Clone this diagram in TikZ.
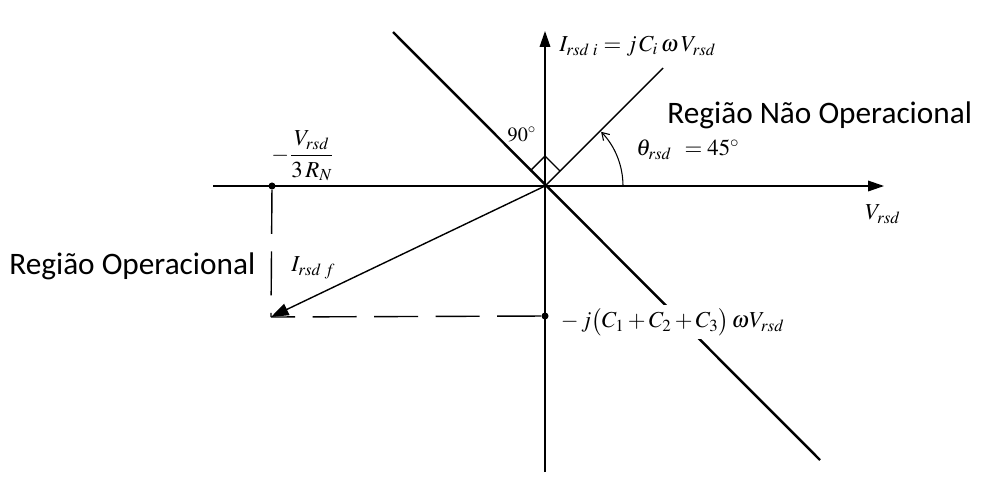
\documentclass[tikz,border=0pt]{standalone}
\usepackage{mathptmx}
\usepackage{fontspec}
\newfontfamily\calib{Carlito}
\usetikzlibrary{arrows.meta}
\begin{document}
\begin{tikzpicture}[x=0.02cm,y=-0.02cm,
  axis/.style={line width=0.8pt,-{Triangle[length=9pt,width=6pt]}},
  thinline/.style={line width=0.8pt},
  thick diag/.style={line width=1.4pt},
  dashln/.style={line width=0.8pt,dash pattern=on 25pt off 10pt},
  dotpt/.style={circle,fill,inner sep=0pt,minimum size=4pt},
  mlab/.style={inner sep=0pt,font=\fontsize{13}{15}\selectfont},
  slab/.style={inner sep=0pt,font=\calib\fontsize{17.8}{20}\selectfont}]
\useasboundingbox (0,0) rectangle (1000,491);
\coordinate (O) at (545,186);
\coordinate (xl) at (213,186);
\coordinate (xr) at (884,186);
\coordinate (yb) at (545,472);
\coordinate (yt) at (545,31);
\coordinate (d1) at (393,32);
\coordinate (d2) at (820,460);
\coordinate (p45) at (663,68);
\coordinate (F) at (271,317);
\node[dotpt] (Fx) at (272,186) {};
\node[dotpt] (Fy) at (545,316) {};
% axes
\draw[axis] (xl) -- (xr);
\draw[axis] (yb) -- (yt);
\draw[thick diag] (d1) -- (d2);
\draw[thinline] (O) -- (p45);
% vector
\draw[thinline,-{Triangle[length=10pt,width=7pt]}] (O) -- (F);
\draw[dashln] (Fy) -- (F);
\draw[dashln] (Fx) -- (F);
% right angle
\coordinate (r1) at (530,171);
\coordinate (r2) at (545,156);
\coordinate (r3) at (560,171);
\draw[thinline] (r1) -- (r2) -- (r3);
% angle arc
\draw[line width=0.6pt,-{Straight Barb[length=4pt,width=5pt]}] (623,186) arc[start angle=0,end angle=-44,radius=78];
% labels
\node[mlab,anchor=west] (Ii) at (559,46) {$I_{rsd\;i} = j\,C_i\,\omega\,V_{rsd}$};
\node[slab,anchor=west] (rno) at (667,115) {Região Não Operacional};
\node[slab,anchor=west] (ro) at (9,266) {Região Operacional};
\node[mlab,anchor=south,font=\fontsize{11.5}{13}\selectfont] (n90) at (522,142) {$90^{\circ}$};
\node[mlab,anchor=west] (th) at (636,150) {$\theta_{rsd}\;\,=45^{\circ}$};
\node[mlab] (frac) at (303,156) {$-\displaystyle\frac{V_{rsd}}{3\,R_N}$};
\node[mlab] (vr) at (883,214) {$V_{rsd}$};
\node[mlab,anchor=west] (If) at (291,268) {$I_{rsd\;f}$};
\node[mlab,anchor=west,fill=white,inner sep=2pt] (Ic) at (557,322) {$-\,j\big(C_1+C_2+C_3\big)\,\omega V_{rsd}$};
\end{tikzpicture}
\end{document}
